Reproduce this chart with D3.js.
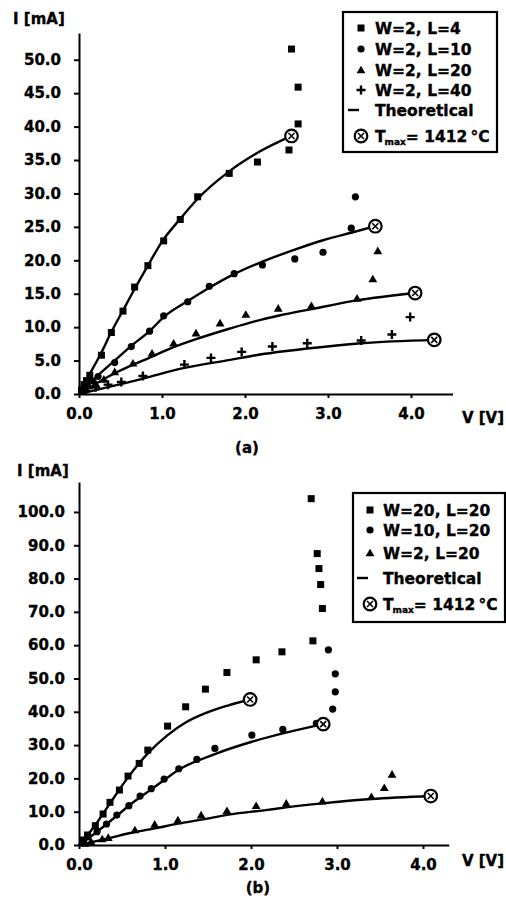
<!DOCTYPE html>
<html>
<head>
<meta charset="utf-8">
<script src="https://cdn.jsdelivr.net/npm/d3@7"></script>
<style>
  body { margin: 0; background: #fff; }
  svg text { font-family: "DejaVu Sans", sans-serif; font-weight: bold; fill: #000; stroke: #000; stroke-width: 0.35px; }
</style>
</head>
<body>
<svg id="chart" width="506" height="905"></svg>
<script>
// ---- panel (a): W=2 with different L ----
const aTicksX = [0, 1, 2, 3, 4];
const aTicksY = [0, 5, 10, 15, 20, 25, 30, 35, 40, 45, 50];

const aL4V = [0.03, 0.06, 0.09, 0.13, 0.27, 0.39, 0.53, 0.67, 0.83, 1.02, 1.22, 1.43, 1.81, 2.15, 2.53, 2.64, 2.64, 2.56];
const aL4I = [0.6, 1.4, 2.0, 2.8, 5.8, 9.2, 12.4, 16.0, 19.2, 22.9, 26.1, 29.5, 33.0, 34.7, 36.5, 40.4, 45.9, 51.6];
const aL10V = [0.05, 0.10, 0.15, 0.23, 0.43, 0.63, 0.85, 1.02, 1.31, 1.57, 1.87, 2.21, 2.60, 2.94, 3.28, 3.33];
const aL10I = [0.8, 1.6, 2.0, 2.6, 4.7, 7.1, 9.4, 11.7, 13.8, 16.1, 18.0, 19.3, 20.2, 21.2, 24.8, 29.5];
const aL20V = [0.06, 0.12, 0.20, 0.30, 0.43, 0.65, 0.88, 1.14, 1.41, 1.70, 2.01, 2.40, 2.80, 3.35, 3.54, 3.60];
const aL20I = [0.6, 1.2, 1.6, 2.2, 3.3, 4.6, 6.1, 7.6, 9.1, 10.6, 11.9, 12.8, 13.2, 14.3, 17.2, 21.4];
const aL40V = [0.08, 0.20, 0.35, 0.51, 0.77, 1.27, 1.59, 1.96, 2.33, 2.75, 3.40, 3.77, 3.99];
const aL40I = [0.5, 1.0, 1.4, 1.8, 2.7, 4.4, 5.4, 6.3, 7.1, 7.6, 8.0, 8.9, 11.5];

const aTh4V = [0, 0.13, 0.27, 0.39, 0.53, 0.67, 0.83, 1.00, 1.22, 1.43, 1.81, 2.14, 2.56];
const aTh4I = [0, 3.0, 6.2, 9.3, 12.5, 15.7, 19.2, 22.8, 26.2, 29.2, 33.3, 36.0, 38.6];
const aTh10V = [0, 0.23, 0.43, 0.63, 0.85, 1.02, 1.31, 1.57, 1.88, 2.21, 2.60, 2.94, 3.30, 3.57];
const aTh10I = [0, 2.8, 5.0, 7.2, 9.4, 11.5, 13.9, 15.9, 18.0, 19.8, 21.6, 23.0, 24.2, 25.1];
const aTh20V = [0, 0.43, 0.88, 1.14, 1.41, 1.82, 2.13, 2.40, 2.80, 3.35, 4.05];
const aTh20I = [0, 3.1, 5.6, 7.0, 8.2, 9.8, 10.9, 11.7, 12.7, 14.0, 15.1];
const aTh40V = [0, 0.77, 1.27, 1.82, 2.13, 2.75, 3.40, 4.28];
const aTh40I = [0, 2.3, 3.9, 5.1, 5.8, 6.8, 7.6, 8.1];

const aTmaxV = [2.56, 3.57, 4.05, 4.28];
const aTmaxI = [38.6, 25.1, 15.1, 8.1];

const aLegend = ["W=2, L=4", "W=2, L=10", "W=2, L=20", "W=2, L=40"];

// ---- panel (b): L=20 with different W ----
const bTicksX = [0, 1, 2, 3, 4];
const bTicksY = [0, 10, 20, 30, 40, 50, 60, 70, 80, 90, 100];

const bW20V = [0.05, 0.10, 0.19, 0.28, 0.36, 0.47, 0.57, 0.70, 0.80, 1.03, 1.24, 1.47, 1.72, 2.06, 2.36, 2.72, 2.83, 2.81, 2.79, 2.77, 2.70];
const bW20I = [1.5, 3.0, 5.8, 9.3, 12.8, 16.5, 20.7, 24.5, 28.5, 35.7, 41.5, 46.8, 51.8, 55.6, 58.0, 61.3, 71.0, 78.2, 83.0, 87.5, 104.0];
const bW10V = [0.05, 0.10, 0.21, 0.32, 0.44, 0.58, 0.71, 0.84, 0.99, 1.16, 1.37, 1.58, 2.01, 2.37, 2.76, 2.95, 2.98, 2.98, 2.90];
const bW10I = [1.2, 2.5, 4.0, 6.3, 9.0, 11.8, 14.7, 16.9, 19.8, 22.9, 25.7, 29.0, 33.0, 34.7, 36.5, 40.8, 46.0, 51.4, 58.6];
const bW2V = [0.07, 0.14, 0.27, 0.34, 0.65, 0.88, 1.15, 1.42, 1.72, 2.06, 2.41, 2.83, 3.40, 3.55, 3.64];
const bW2I = [0.5, 1.0, 1.8, 2.2, 4.5, 6.2, 7.5, 9.0, 10.3, 11.8, 12.5, 13.2, 14.5, 17.2, 21.2];

const bTh20V = [0, 0.19, 0.36, 0.57, 0.80, 1.03, 1.24, 1.47, 1.72, 1.99];
const bTh20I = [0, 6.0, 12.5, 20.3, 27.5, 33.0, 36.8, 39.6, 41.8, 43.7];
const bTh10V = [0, 0.21, 0.44, 0.58, 0.84, 0.99, 1.16, 1.58, 2.01, 2.37, 2.84];
const bTh10I = [0, 4.0, 8.8, 11.8, 16.7, 19.5, 22.6, 27.3, 31.0, 33.5, 36.3];
const bTh2V = [0, 0.34, 0.65, 0.88, 1.15, 1.42, 1.76, 2.15, 2.41, 2.83, 3.40, 4.09];
const bTh2I = [0, 2.0, 3.9, 5.0, 6.4, 7.6, 9.2, 10.4, 11.3, 12.5, 13.8, 14.7];

const bTmaxV = [1.99, 2.84, 4.09];
const bTmaxI = [43.7, 36.3, 14.7];

const bLegend = ["W=20, L=20", "W=10, L=20", "W=2, L=20"];

const zip = (v, i) => v.map((d, k) => ({ v: d, i: i[k] }));

const svg = d3.select("#chart");

function marker(g, type, x, y) {
  if (type == "square") {
    g.append("rect").attr("x", x - 3.5).attr("y", y - 3.5).attr("width", 7).attr("height", 7);
  } else if (type == "circle") {
    g.append("circle").attr("cx", x).attr("cy", y).attr("r", 3.6);
  } else if (type == "triangle") {
    g.append("path").attr("d", d3.symbol(d3.symbolTriangle, 34)()).attr("transform", `translate(${x},${y + 0.8})`);
  } else if (type == "plus") {
    g.append("path").attr("d", `M${x - 4.5},${y}H${x + 4.5}M${x},${y - 4.5}V${y + 4.5}`)
      .attr("stroke", "#000").attr("stroke-width", 2.4);
  } else if (type == "tmax") {
    g.append("circle").attr("cx", x).attr("cy", y).attr("r", 6.3)
      .attr("fill", "#fff").attr("stroke", "#000").attr("stroke-width", 2.2);
    g.append("path").attr("d", `M${x - 3},${y - 3}L${x + 3},${y + 3}M${x + 3},${y - 3}L${x - 3},${y + 3}`)
      .attr("stroke", "#000").attr("stroke-width", 1.6);
  }
}

function panel(cfg) {
  const x = d3.scaleLinear().domain([0, cfg.xMax]).range([79, cfg.xEnd]);
  const y = d3.scaleLinear().domain([0, cfg.yMax]).range([cfg.y0, cfg.yTop]);
  const g = svg.append("g");

  // axes
  const xa = g.append("g").attr("transform", `translate(0,${cfg.y0})`)
    .call(d3.axisBottom(x).tickValues(cfg.ticksX).tickFormat(d3.format(".1f")).tickSize(4).tickPadding(10).tickSizeOuter(0));
  const ya = g.append("g").attr("transform", "translate(79,0)")
    .call(d3.axisLeft(y).tickValues(cfg.ticksY).tickFormat(d3.format(".1f")).tickSize(5).tickPadding(cfg.yPad).tickSizeOuter(0));
  [xa, ya].forEach(a => {
    a.select(".domain").attr("stroke-width", 2);
    a.selectAll(".tick line").attr("stroke-width", 2);
    a.selectAll("text").attr("font-size", 15).attr("font-family", "DejaVu Sans").attr("font-weight", "bold");
  });

  // theoretical curves
  const line = d3.line().x(d => x(d.v)).y(d => y(d.i)).curve(d3.curveMonotoneX);
  cfg.theory.forEach(t => {
    g.append("path").datum(t).attr("d", line)
      .attr("fill", "none").attr("stroke", "#000").attr("stroke-width", 2.4);
  });

  // measured points
  const pts = g.append("g").attr("fill", "#000");
  cfg.series.forEach(s => {
    s.data.forEach(d => marker(pts, s.type, x(d.v), y(d.i)));
  });
  cfg.tmax.forEach(d => marker(g, "tmax", x(d.v), y(d.i)));

  // axis titles
  g.append("text").attr("x", cfg.iLabelX).attr("y", cfg.iLabelY).attr("font-size", 15).text("I [mA]");
  g.append("text").attr("x", 483).attr("y", cfg.vLabelY).attr("text-anchor", "middle").attr("font-size", 15).text("V [V]");
  g.append("text").attr("x", cfg.capX).attr("y", cfg.capY).attr("text-anchor", "middle").attr("font-size", 15).text(cfg.caption);

  // legend
  const L = cfg.legend;
  g.append("rect").attr("x", L.x).attr("y", L.y).attr("width", L.w).attr("height", L.h)
    .attr("fill", "#fff").attr("stroke", "#000").attr("stroke-width", 2.2);
  const lg = g.append("g").attr("fill", "#000");
  cfg.series.forEach((s, k) => {
    marker(lg, s.type, L.mx, L.rows[k]);
    lg.append("text").attr("x", L.tx).attr("y", L.rows[k] + 5.5).attr("font-size", 15.5).text(s.name);
  });
  const n = cfg.series.length;
  g.append("line").attr("x1", L.mx - 13).attr("x2", L.mx - 2).attr("y1", L.rows[n]).attr("y2", L.rows[n])
    .attr("stroke", "#000").attr("stroke-width", 2.4);
  g.append("text").attr("x", L.tx).attr("y", L.rows[n] + 5.5).attr("font-size", 15.5).text("Theoretical");
  marker(g, "tmax", L.mx, L.rows[n + 1]);
  const tt = g.append("text").attr("x", L.tx).attr("y", L.rows[n + 1] + 5.5).attr("font-size", 15.5);
  tt.append("tspan").text("T");
  tt.append("tspan").attr("font-size", 9).attr("dy", 3).attr("dx", -1).text("max");
  tt.append("tspan").attr("dy", -3).text("= 1412");
  tt.append("tspan").attr("dx", 3).text("°C");
}

panel({
  xMax: 4.5, xEnd: 452.5, yMax: 54, y0: 394, yTop: 33, yPad: 13,
  ticksX: aTicksX, ticksY: aTicksY,
  theory: [zip(aTh4V, aTh4I), zip(aTh10V, aTh10I), zip(aTh20V, aTh20I), zip(aTh40V, aTh40I)],
  series: [
    { name: aLegend[0], type: "square", data: zip(aL4V, aL4I) },
    { name: aLegend[1], type: "circle", data: zip(aL10V, aL10I) },
    { name: aLegend[2], type: "triangle", data: zip(aL20V, aL20I) },
    { name: aLegend[3], type: "plus", data: zip(aL40V, aL40I) }
  ],
  tmax: zip(aTmaxV, aTmaxI),
  iLabelX: 13, iLabelY: 24, vLabelY: 423, capX: 247, capY: 453, caption: "(a)",
  legend: { x: 343, y: 12, w: 154, h: 140, mx: 361, tx: 375, rows: [28, 49, 70, 90, 110, 136] }
});

panel({
  xMax: 4.3, xEnd: 448.8, yMax: 109, y0: 845, yTop: 482, yPad: 9,
  ticksX: bTicksX, ticksY: bTicksY,
  theory: [zip(bTh20V, bTh20I), zip(bTh10V, bTh10I), zip(bTh2V, bTh2I)],
  series: [
    { name: bLegend[0], type: "square", data: zip(bW20V, bW20I) },
    { name: bLegend[1], type: "circle", data: zip(bW10V, bW10I) },
    { name: bLegend[2], type: "triangle", data: zip(bW2V, bW2I) }
  ],
  tmax: zip(bTmaxV, bTmaxI),
  iLabelX: 17, iLabelY: 476, vLabelY: 866, capX: 258, capY: 893, caption: "(b)",
  legend: { x: 353, y: 493, w: 152, h: 129, mx: 370, tx: 383, rows: [510, 530, 553, 578, 604] }
});
</script>
</body>
</html>
